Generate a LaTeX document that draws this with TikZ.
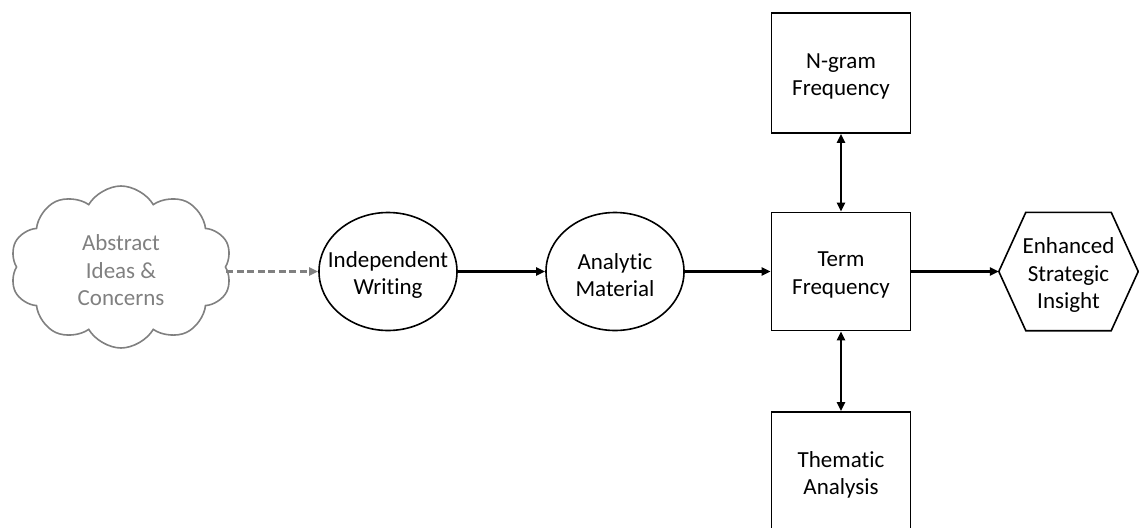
\documentclass[tikz,border=0pt]{standalone}
\usepackage{fontspec}
\setmainfont{Carlito}[Ligatures=NoCommon]
\usetikzlibrary{shapes.geometric,shapes.symbols,arrows.meta}
\definecolor{cgray}{RGB}{128,128,128}
\tikzset{
  lbl/.style={align=center,font=\fontsize{23}{27.5}\selectfont,inner sep=0pt,yshift=-3.5pt},
  boxn/.style={draw=black,line width=1.6pt,inner sep=0pt,minimum width=139pt,minimum height=118pt},
  elln/.style={draw=black,line width=1.6pt,ellipse,inner sep=0pt,minimum width=138pt,minimum height=118pt},
  flow/.style={line width=2.6pt,-{Triangle[length=9pt,width=8pt]}},
  bflow/.style={line width=2.6pt,{Triangle[length=9pt,width=8pt]}-{Triangle[length=9pt,width=8pt]}},
  dflow/.style={line width=2.8pt,cgray,dash pattern=on 7pt off 3.5pt,-{Triangle[length=9pt,width=8pt]}},
}
\begin{document}
\begin{tikzpicture}[x=1pt,y=-1pt]
\useasboundingbox (0,0) rectangle (1139,527);
\node[draw=cgray,line width=1.6pt,cloud,cloud puffs=10,cloud puff arc=120,cloud ignores aspect,inner sep=0pt,minimum width=222pt,minimum height=162pt] (cloud) at (121,267) {};
\node[lbl,text=cgray] (cloudt) at (cloud.center) {Abstract\\Ideas \&\\Concerns};
\node[elln] (iw) at (388,271.5) {};
\node[lbl] (iwt) at (iw.center) {Independent\\Writing};
\node[elln] (am) at (615,271.5) {};
\node[lbl] (amt) at (am.center) {Analytic\\Material};
\node[boxn] (tf) at (841,271.5) {};
\node[lbl] (tft) at (tf.center) {Term\\Frequency};
\node[boxn,minimum height=120pt] (ng) at (841,73) {};
\node[lbl] (ngt) at (ng.center) {N-gram\\Frequency};
\node[boxn,minimum height=119pt] (ta) at (841,471.5) {};
\node[lbl] (tat) at (ta.center) {Thematic\\Analysis};
\node[inner sep=0pt,minimum width=139pt,minimum height=118pt] (hx) at (1068.5,271.5) {};
\node[lbl] (hxt) at (hx.center) {Enhanced\\Strategic\\Insight};
\draw[line width=1.6pt] (hx.west) -- ([xshift=27pt]hx.north west) -- ([xshift=-27pt]hx.north east) -- (hx.east) -- ([xshift=-27pt]hx.south east) -- ([xshift=27pt]hx.south west) -- cycle;
\draw[dflow] (cloud.east |- iw.west) -- (iw.west);
\draw[flow] (iw.east) -- (am.west);
\draw[flow] (am.east) -- (tf.west);
\draw[flow] (tf.east) -- (hx.west);
\draw[bflow] (ng.south) -- (tf.north);
\draw[bflow] (tf.south) -- (ta.north);
\end{tikzpicture}
\end{document}
